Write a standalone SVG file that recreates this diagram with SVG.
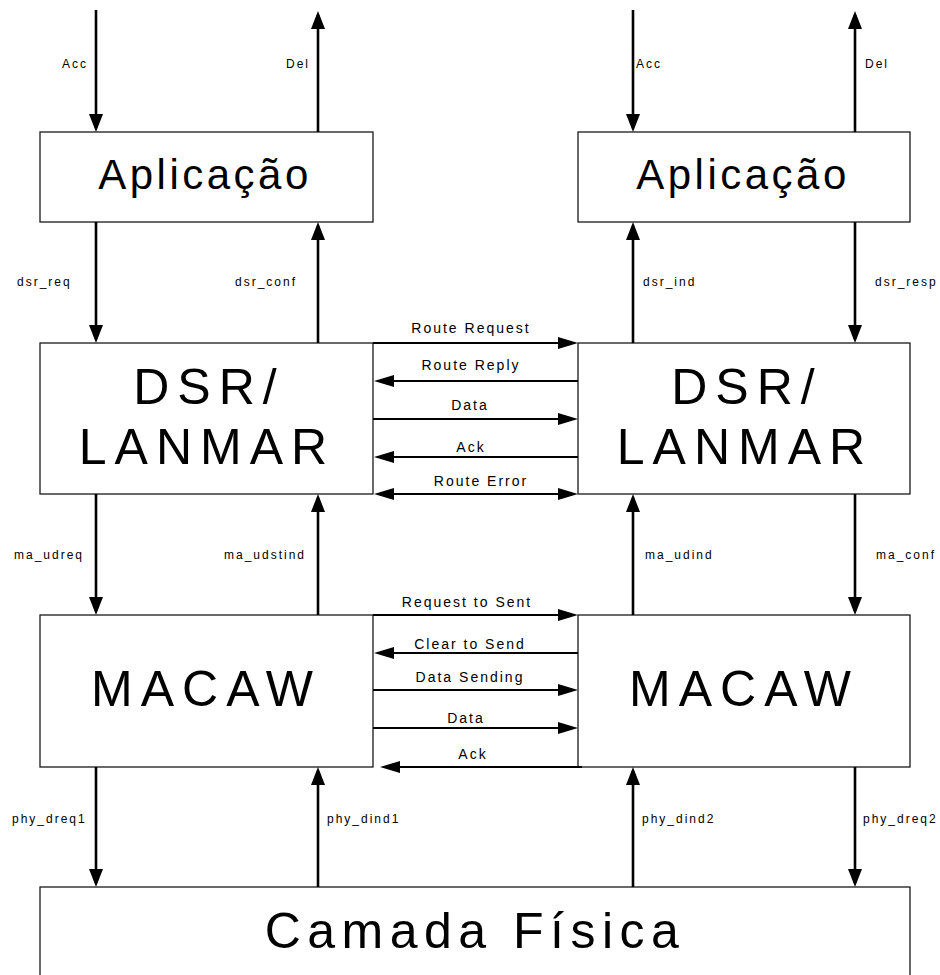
<svg xmlns="http://www.w3.org/2000/svg" width="940" height="975" viewBox="0 0 940 975">
<style>
.box{fill:#fff;stroke:#1a1a1a;stroke-width:1.3}
.big{font-family:"Liberation Sans",Arial,sans-serif;font-size:50px;letter-spacing:8px;text-anchor:middle;fill:#000}
.app{font-family:"Liberation Sans",Arial,sans-serif;font-size:42px;letter-spacing:3.5px;text-anchor:middle;fill:#000}
.lbl{font-family:"Liberation Sans",Arial,sans-serif;font-size:12px;letter-spacing:2px;fill:#000}
.hl{font-family:"Liberation Sans",Arial,sans-serif;font-size:14px;letter-spacing:2px;text-anchor:middle;fill:#000}
.v{stroke:#000;stroke-width:2.6;fill:none;marker-end:url(#av)}
.h{stroke:#000;stroke-width:2.2;fill:none;marker-end:url(#ah)}
</style>
<defs>
<marker id="av" markerUnits="userSpaceOnUse" markerWidth="18" markerHeight="14" refX="14" refY="7" orient="auto"><path d="M0,0 L18,7 L0,14 z" fill="#000"/></marker>
<marker id="ah" markerUnits="userSpaceOnUse" markerWidth="20" markerHeight="12" refX="16" refY="6" orient="auto-start-reverse"><path d="M0,0 L20,6 L0,12 z" fill="#000"/></marker>
</defs>
<rect width="940" height="975" fill="#fff"/>
<g id="app1"><rect class="box" x="40" y="132" width="333" height="90"/><text class="app" x="205" y="189">Aplicação</text></g>
<g id="app2"><rect class="box" x="578" y="132" width="332" height="90"/><text class="app" x="743" y="189">Aplicação</text></g>
<g id="dsr1"><rect class="box" x="40" y="343" width="333" height="151"/><text class="big" x="209" y="404">DSR/</text><text class="big" x="207" y="464">LANMAR</text></g>
<g id="dsr2"><rect class="box" x="578" y="343" width="332" height="151"/><text class="big" x="747" y="404">DSR/</text><text class="big" x="745" y="464">LANMAR</text></g>
<g id="mac1"><rect class="box" x="40" y="615" width="333" height="152"/><text class="big" x="206" y="706">MACAW</text></g>
<g id="mac2"><rect class="box" x="578" y="615" width="332" height="152"/><text class="big" x="744" y="706">MACAW</text></g>
<g id="phy"><rect class="box" x="40" y="887" width="870" height="100"/><text class="big" x="475" y="948" style="letter-spacing:6.5px">Camada Física</text></g>
<g id="connectors">
<line class="v" x1="96" y1="10" x2="96" y2="128"/>
<line class="v" x1="318" y1="132" x2="318" y2="15"/>
<line class="v" x1="633" y1="10" x2="633" y2="128"/>
<line class="v" x1="855" y1="132" x2="855" y2="15"/>
<line class="v" x1="96" y1="222" x2="96" y2="339"/>
<line class="v" x1="318" y1="343" x2="318" y2="226"/>
<line class="v" x1="633" y1="343" x2="633" y2="226"/>
<line class="v" x1="855" y1="222" x2="855" y2="339"/>
<line class="v" x1="96" y1="494" x2="96" y2="611"/>
<line class="v" x1="318" y1="615" x2="318" y2="498"/>
<line class="v" x1="633" y1="615" x2="633" y2="498"/>
<line class="v" x1="855" y1="494" x2="855" y2="611"/>
<line class="v" x1="96" y1="767" x2="96" y2="883"/>
<line class="v" x1="318" y1="887" x2="318" y2="771"/>
<line class="v" x1="633" y1="887" x2="633" y2="771"/>
<line class="v" x1="855" y1="767" x2="855" y2="883"/>
<line class="h" x1="373" y1="343" x2="574" y2="343"/>
<line class="h" x1="578" y1="381" x2="378" y2="381"/>
<line class="h" x1="373" y1="419" x2="574" y2="419"/>
<line class="h" x1="578" y1="457" x2="378" y2="457"/>
<line class="h" x1="378" y1="494" x2="574" y2="494" style="marker-start:url(#ah)"/>
<line class="h" x1="373" y1="615" x2="574" y2="615"/>
<line class="h" x1="578" y1="653" x2="378" y2="653"/>
<line class="h" x1="373" y1="690" x2="574" y2="690"/>
<line class="h" x1="373" y1="728" x2="574" y2="728"/>
<line class="h" x1="582" y1="767" x2="384" y2="767"/>
</g>
<g id="labels">
<text class="lbl" x="62" y="68">Acc</text>
<text class="lbl" x="286" y="68">Del</text>
<text class="lbl" x="636" y="68">Acc</text>
<text class="lbl" x="865" y="68">Del</text>
<text class="lbl" x="17" y="286">dsr_req</text>
<text class="lbl" x="235" y="286">dsr_conf</text>
<text class="lbl" x="643" y="286">dsr_ind</text>
<text class="lbl" x="875" y="286">dsr_resp</text>
<text class="lbl" x="14" y="559">ma_udreq</text>
<text class="lbl" x="224" y="559">ma_udstind</text>
<text class="lbl" x="645" y="559">ma_udind</text>
<text class="lbl" x="876" y="559">ma_conf</text>
<text class="lbl" x="12" y="823">phy_dreq1</text>
<text class="lbl" x="327" y="823">phy_dind1</text>
<text class="lbl" x="642" y="823">phy_dind2</text>
<text class="lbl" x="863" y="823">phy_dreq2</text>
<text class="hl" x="471" y="333">Route Request</text>
<text class="hl" x="471" y="370">Route Reply</text>
<text class="hl" x="470" y="410">Data</text>
<text class="hl" x="471" y="452">Ack</text>
<text class="hl" x="481" y="486">Route Error</text>
<text class="hl" x="467" y="607">Request to Sent</text>
<text class="hl" x="470" y="649">Clear to Send</text>
<text class="hl" x="470" y="682">Data Sending</text>
<text class="hl" x="466" y="723">Data</text>
<text class="hl" x="473" y="759">Ack</text>
</g>
</svg>
